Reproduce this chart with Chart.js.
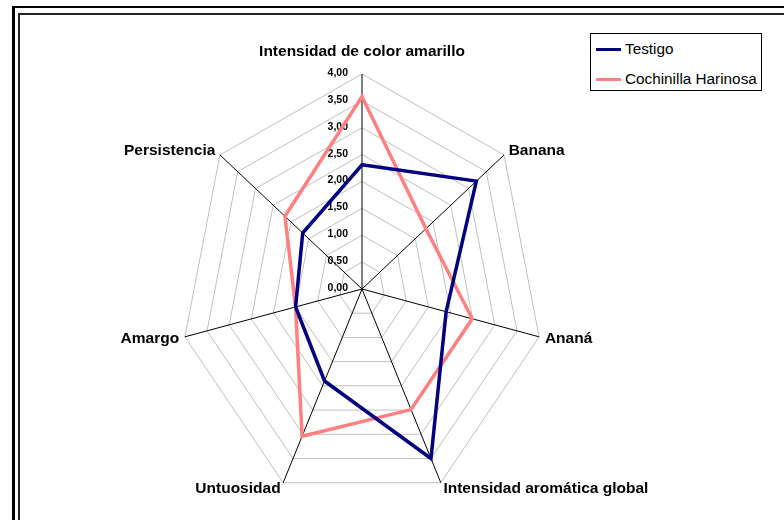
<!DOCTYPE html>
<html lang="es">
<head>
<meta charset="utf-8">
<title>Perfil sensorial</title>
<script src="https://cdn.jsdelivr.net/npm/chart.js@4.4.1/dist/chart.umd.min.js"></script>
<style>
  html, body { margin: 0; padding: 0; background: #fff; overflow: hidden; }
  #wrap { position: relative; width: 784px; height: 520px; overflow: hidden; }
  #chart { position: absolute; left: 0; top: 0; }
  .frame { position: absolute; right: -10px; bottom: -10px; border-style: solid; }
  .frame.outer { left: 12px; top: 6px; border-width: 2px 0 0 3px; border-color: #000; }
  .frame.inner { left: 18px; top: 13px; border-width: 2px 0 0 2px; border-color: #222; }
  #legend {
    position: absolute; left: 590px; top: 33px; width: 172px; height: 58px;
    box-sizing: border-box; border: 1px solid #000; background: #fff;
    font: 15.3px 'Liberation Sans', Arial, sans-serif; color: #000;
  }
  #legend .item { display: flex; align-items: center; height: 30px; }
  #legend .swatch { width: 25px; height: 3px; margin: 0 4px 0 5px; }
</style>
</head>
<body>
<div id="wrap">
  <canvas id="chart" width="784" height="520"></canvas>
  <div class="frame outer"></div>
  <div class="frame inner"></div>
  <div id="legend"></div>
</div>
<script>
const categories = ['Intensidad de color amarillo', 'Banana', 'Ananá', 'Intensidad aromática global', 'Untuosidad', 'Amargo', 'Persistencia'];
const testigo = [2.31, 3.22, 1.90, 3.50, 1.90, 1.50, 1.67];
const cochinilla = [3.58, 1.80, 2.49, 2.49, 3.04, 1.50, 2.17];
const scaleMin = 0;
const scaleMax = 4;
const scaleStep = 0.5;

const FONT = "'Liberation Sans', Arial, sans-serif";
// the web is taller than it is wide
const X_SQUASH = 0.845;

class SquashedRadialScale extends Chart.RadialLinearScale {
  static id = 'squashedRadial';

  getPointPosition(index, distance, additionalAngle = 0) {
    const p = super.getPointPosition(index, distance, additionalAngle);
    p.x = this.xCenter + (p.x - this.xCenter) * X_SQUASH;
    return p;
  }

  drawGrid() {
    super.drawGrid();
    // category names just past the end of each spoke
    const ctx = this.ctx;
    const outer = this.getDistanceFromCenterForValue(this.max);
    ctx.save();
    ctx.font = 'bold 15.5px ' + FONT;
    ctx.fillStyle = '#000';
    ctx.textBaseline = 'middle';
    this.chart.data.labels.forEach((label, i) => {
      const a = this.getIndexAngle(i);
      const s = Math.sin(a);
      const isTop = Math.abs(s) < 0.01 && Math.cos(a) > 0;
      const p = this.getPointPosition(i, outer + (isTop ? 22 : 7));
      ctx.textAlign = Math.abs(s) < 0.01 ? 'center' : (s > 0 ? 'left' : 'right');
      ctx.fillText(label, p.x, p.y);
    });
    ctx.restore();
  }

  drawLabels() {
    // value labels right-aligned beside the first spoke, 0,00 included
    const ctx = this.ctx;
    ctx.save();
    ctx.font = 'bold 10.5px ' + FONT;
    ctx.fillStyle = '#000';
    ctx.textAlign = 'right';
    ctx.textBaseline = 'middle';
    this.ticks.forEach(t => {
      const d = this.getDistanceFromCenterForValue(t.value);
      ctx.fillText(t.label, this.xCenter - 14, this.yCenter - d - 1);
    });
    ctx.restore();
  }
}
Chart.register(SquashedRadialScale);

const chart = new Chart(document.getElementById('chart'), {
  type: 'radar',
  data: {
    labels: categories,
    datasets: [
      {
        label: 'Testigo',
        data: testigo,
        borderColor: '#000080',
        backgroundColor: '#000080',
        borderWidth: 3.5,
        fill: false,
        pointRadius: 0,
        pointHoverRadius: 0
      },
      {
        label: 'Cochinilla Harinosa',
        data: cochinilla,
        borderColor: '#ff8080',
        backgroundColor: '#ff8080',
        borderWidth: 3.5,
        fill: false,
        pointRadius: 0,
        pointHoverRadius: 0
      }
    ]
  },
  options: {
    responsive: false,
    animation: false,
    devicePixelRatio: 1,
    layout: { padding: { top: 69, bottom: 10, left: 0, right: 60 } },
    plugins: {
      legend: { display: false },
      tooltip: { enabled: false }
    },
    elements: { line: { tension: 0 } },
    scales: {
      r: {
        type: 'squashedRadial',
        min: scaleMin,
        max: scaleMax,
        ticks: {
          stepSize: scaleStep,
          backdropPadding: 0,
          showLabelBackdrop: false,
          font: { size: 10.5 },
          callback: v => v.toFixed(2).replace('.', ',')
        },
        grid: { color: '#c0c0c0', lineWidth: 1 },
        angleLines: { color: '#000', lineWidth: 1 },
        pointLabels: { display: false }
      }
    }
  }
});

// legend box in the top right corner
const legend = document.getElementById('legend');
chart.data.datasets.forEach(ds => {
  const row = document.createElement('div');
  row.className = 'item';
  const swatch = document.createElement('span');
  swatch.className = 'swatch';
  swatch.style.background = ds.borderColor;
  const text = document.createElement('span');
  text.textContent = ds.label;
  row.append(swatch, text);
  legend.append(row);
});
</script>
</body>
</html>
